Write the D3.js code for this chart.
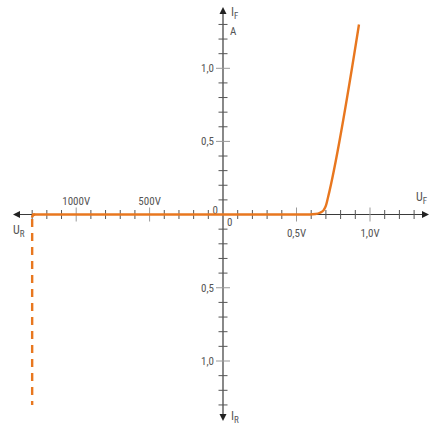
<!DOCTYPE html>
<html>
<head>
<meta charset="utf-8">
<script src="https://cdn.jsdelivr.net/npm/d3@7"></script>
<style>
body { margin: 0; background: #fff; }
text { font-family: "Roboto", "Liberation Sans Narrow", sans-serif; font-stretch: condensed; fill: #555; font-size: 11px; }
</style>
</head>
<body>
<script>
var w = 430, h = 426;

// forward branch: U_F in V, I_F in A
var forward_u = [0, 0.59, 0.63, 0.66, 0.685, 0.70, 0.715, 0.925];
var forward_i = [0, 0, 0.003, 0.012, 0.03, 0.06, 0.12, 1.3];
// reverse branch: U_R in V, I_R (same scale as the axis)
var reverse_u = [0, 1300];
var reverse_i = [0, 0];
var breakdown_u = [1300, 1300];
var breakdown_i = [0.03, 1.3];

var uf_ticks = [0.1,0.2,0.3,0.4,0.5,0.6,0.7,0.8,0.9,1.0,1.1,1.2,1.3];
var ur_ticks = [100,200,300,400,500,600,700,800,900,1000,1100,1200,1300];
var i_ticks = [0.1,0.2,0.3,0.4,0.5,0.6,0.7,0.8,0.9,1.0,1.1,1.2,1.3];
var uf_labels = [[0.5, "0,5V"], [1.0, "1,0V"]];
var ur_labels = [[500, "500V"], [1000, "1000V"]];
var if_labels = [[0.5, "0,5"], [1.0, "1,0"]];
var ir_labels = [[0.5, "0,5"], [1.0, "1,0"]];

var ox = 223, oy = 214.5;
var xF = d3.scaleLinear().domain([0, 1.3]).range([ox, ox + 13 * 14.7]);
var xR = d3.scaleLinear().domain([0, 1300]).range([ox, ox - 13 * 14.68]);
var yF = d3.scaleLinear().domain([0, 1.3]).range([oy, oy - 13 * 14.62]);
var yR = d3.scaleLinear().domain([0, 1.3]).range([oy, oy + 13 * 14.65]);

var svg = d3.select("body").append("svg").attr("width", w).attr("height", h);

var axisCol = "#3a3a3a", minorCol = "#555", majorCol = "#9a9a9a";

// axes
svg.append("line").attr("x1", 16).attr("x2", 424).attr("y1", oy).attr("y2", oy)
  .attr("stroke", axisCol).attr("stroke-width", 1.2);
svg.append("line").attr("x1", ox).attr("x2", ox).attr("y1", 11).attr("y2", 416)
  .attr("stroke", axisCol).attr("stroke-width", 1.2);

// arrow heads
var arrows = [
  [[429, oy], [422, oy - 3.5], [422, oy + 3.5]],
  [[13, oy], [20, oy - 3.5], [20, oy + 3.5]],
  [[ox, 7], [ox - 3.5, 14], [ox + 3.5, 14]],
  [[ox, 421], [ox - 3.5, 414], [ox + 3.5, 414]]
];
svg.selectAll("path.arrow").data(arrows).enter().append("path")
  .attr("class", "arrow")
  .attr("d", function(d) { return "M" + d.join("L") + "Z"; })
  .attr("fill", "#222");

function isMajor(v, step) { return Math.abs(v / step - Math.round(v / step)) < 1e-6; }

// ticks on x
svg.selectAll("line.tfx").data(uf_ticks).enter().append("line")
  .attr("x1", function(d) { return xF(d); }).attr("x2", function(d) { return xF(d); })
  .attr("y1", function(d) { return oy - (isMajor(d, 0.5) ? 7 : 4.5); })
  .attr("y2", function(d) { return oy + (isMajor(d, 0.5) ? 7 : 4.5); })
  .attr("stroke", function(d) { return isMajor(d, 0.5) ? majorCol : minorCol; });
svg.selectAll("line.trx").data(ur_ticks).enter().append("line")
  .attr("x1", function(d) { return xR(d); }).attr("x2", function(d) { return xR(d); })
  .attr("y1", function(d) { return oy - (isMajor(d, 500) ? 7 : 4.5); })
  .attr("y2", function(d) { return oy + (isMajor(d, 500) ? 7 : 4.5); })
  .attr("stroke", function(d) { return isMajor(d, 500) ? majorCol : minorCol; });
// ticks on y
svg.selectAll("line.tfy").data(i_ticks).enter().append("line")
  .attr("y1", function(d) { return yF(d); }).attr("y2", function(d) { return yF(d); })
  .attr("x1", function(d) { return ox - (isMajor(d, 0.5) ? 7 : 4.5); })
  .attr("x2", function(d) { return ox + (isMajor(d, 0.5) ? 7 : 4.5); })
  .attr("stroke", function(d) { return isMajor(d, 0.5) ? majorCol : minorCol; });
svg.selectAll("line.try").data(i_ticks).enter().append("line")
  .attr("y1", function(d) { return yR(d); }).attr("y2", function(d) { return yR(d); })
  .attr("x1", function(d) { return ox - (isMajor(d, 0.5) ? 7 : 4.5); })
  .attr("x2", function(d) { return ox + (isMajor(d, 0.5) ? 7 : 4.5); })
  .attr("stroke", function(d) { return isMajor(d, 0.5) ? majorCol : minorCol; });

// tick labels
svg.selectAll("text.luf").data(uf_labels).enter().append("text")
  .attr("x", function(d) { return xF(d[0]); }).attr("y", oy + 22)
  .attr("text-anchor", "middle").text(function(d) { return d[1]; });
svg.selectAll("text.lur").data(ur_labels).enter().append("text")
  .attr("x", function(d) { return xR(d[0]); }).attr("y", oy - 10)
  .attr("text-anchor", "middle").text(function(d) { return d[1]; });
svg.selectAll("text.lif").data(if_labels).enter().append("text")
  .attr("x", ox - 9).attr("y", function(d) { return yF(d[0]) + 4; })
  .attr("text-anchor", "end").text(function(d) { return d[1]; });
svg.selectAll("text.lir").data(ir_labels).enter().append("text")
  .attr("x", ox - 9).attr("y", function(d) { return yR(d[0]) + 4; })
  .attr("text-anchor", "end").text(function(d) { return d[1]; });

svg.append("text").attr("x", ox - 5).attr("y", oy - 1).attr("text-anchor", "end").text("0");
svg.append("text").attr("x", ox + 4).attr("y", oy + 11).text("0");

// axis names
function axisName(x, y, main, sub) {
  var t = svg.append("text").attr("x", x).attr("y", y).style("font-size", "12px");
  t.append("tspan").text(main);
  t.append("tspan").attr("dy", 2.5).style("font-size", "9px").text(sub);
}
axisName(231, 16, "I", "F");
svg.append("text").attr("x", 230).attr("y", 35).text("A");
axisName(416, 201, "U", "F");
axisName(13, 234, "U", "R");
axisName(231, 420, "I", "R");

// curves
var orange = "#e8771f";
var fwd = forward_u.map(function(u, k) { return [xF(u), yF(forward_i[k])]; });
svg.append("path").attr("d", d3.line().curve(d3.curveMonotoneX)(fwd))
  .attr("fill", "none").attr("stroke", orange).attr("stroke-width", 2.4);

var rev = reverse_u.map(function(u, k) { return [xR(u), yR(reverse_i[k])]; });
svg.append("path").attr("d", d3.line()(rev))
  .attr("fill", "none").attr("stroke", orange).attr("stroke-width", 2.4);
// rounded corner into the breakdown
var cx = xR(1300);
svg.append("path").attr("d", "M" + (cx + 3) + "," + oy + " Q" + cx + "," + oy + " " + cx + "," + (oy + 3))
  .attr("fill", "none").attr("stroke", orange).attr("stroke-width", 2.4);

var brk = breakdown_u.map(function(u, k) { return [xR(u), yR(breakdown_i[k])]; });
svg.append("path").attr("d", d3.line()(brk))
  .attr("fill", "none").attr("stroke", orange).attr("stroke-width", 2.4)
  .attr("stroke-dasharray", "8,6");
</script>
</body>
</html>
